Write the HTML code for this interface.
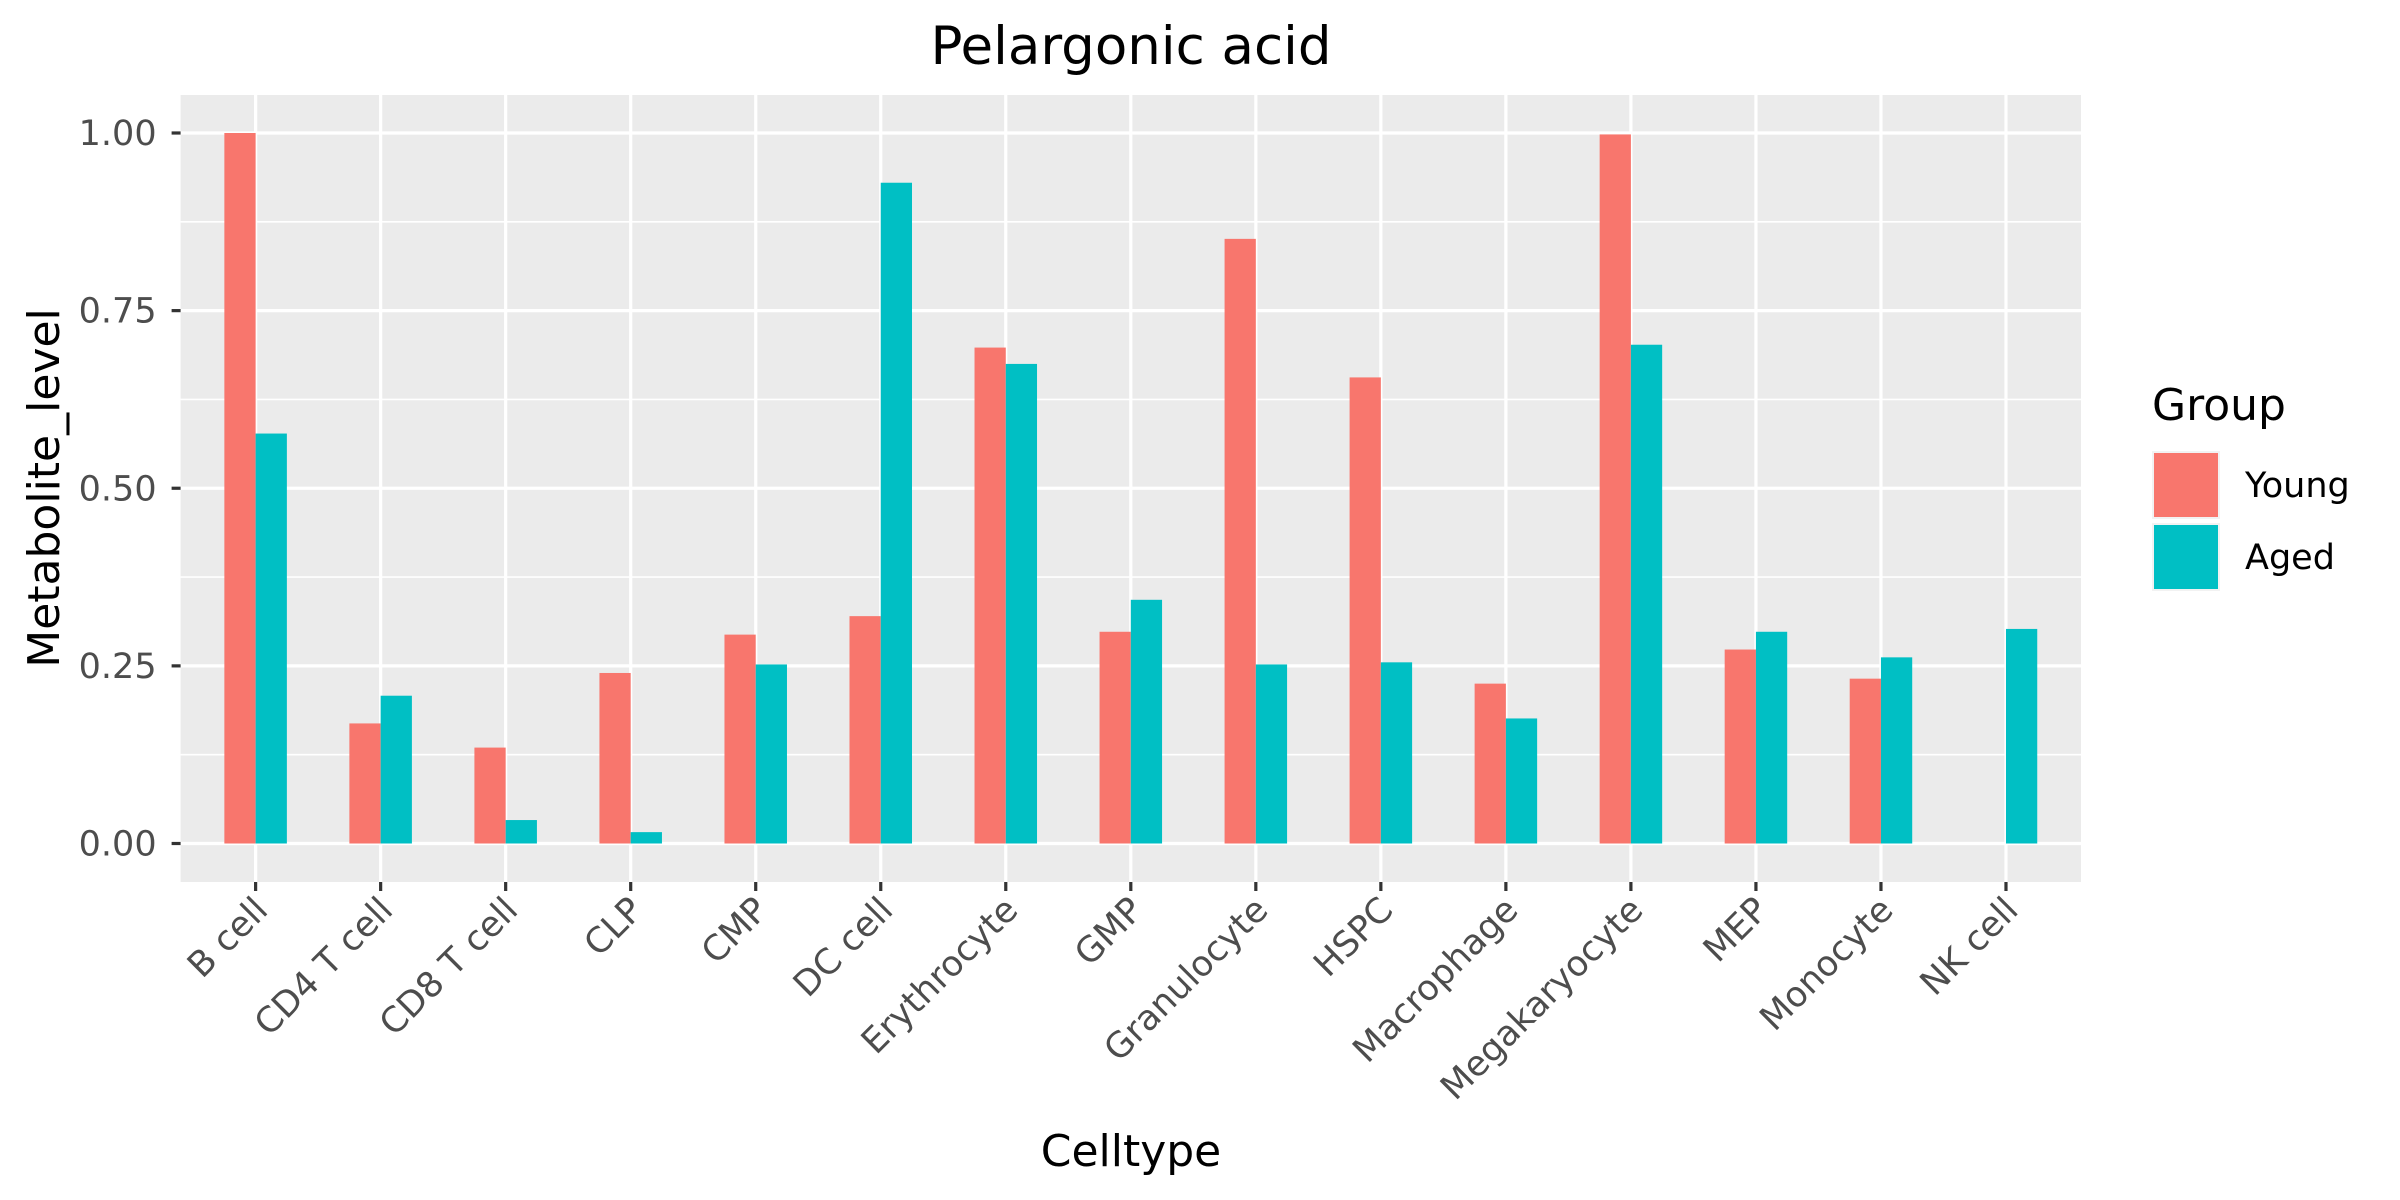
<!DOCTYPE html>
<html><head><meta charset="utf-8"><style>
html,body{margin:0;padding:0;background:#fff;}
svg{display:block;font-family:"DejaVu Sans","Liberation Sans",sans-serif;}
</style></head><body>
<svg id="chart" width="2400" height="1200" viewBox="0 0 2400 1200" xmlns="http://www.w3.org/2000/svg">
<rect x="0" y="0" width="2400" height="1200" fill="#fff"/>
<text x="1131" y="64" font-size="53" text-anchor="middle" fill="#000">Pelargonic acid</text>
<rect x="180.6" y="95" width="1900.4" height="787" fill="#EBEBEB"/>
<g id="grid"></g>
<g id="bars"></g>
<g id="axes"></g>
<text x="1131" y="1166" font-size="44" text-anchor="middle" fill="#000">Celltype</text>
<text transform="translate(59,488) rotate(-90)" font-size="44" text-anchor="middle" fill="#000">Metabolite_level</text>
<g>
<text x="2152" y="420" font-size="44" fill="#000">Group</text>
<rect x="2152" y="451" width="68" height="68" fill="#F2F2F2"/>
<rect x="2154" y="453" width="64" height="64" fill="#F8766D"/>
<text x="2245" y="486" font-size="35" dominant-baseline="central" fill="#000">Young</text>
<rect x="2152" y="523" width="68" height="68" fill="#F2F2F2"/>
<rect x="2154" y="525" width="64" height="64" fill="#00BFC4"/>
<text x="2245" y="558" font-size="35" dominant-baseline="central" fill="#000">Aged</text>
</g>
</svg>
<script>
const categories = ["B cell","CD4 T cell","CD8 T cell","CLP","CMP","DC cell","Erythrocyte","GMP","Granulocyte","HSPC","Macrophage","Megakaryocyte","MEP","Monocyte","NK cell"];
const youngValues = [1.0,0.169,0.135,0.240,0.294,0.320,0.698,0.298,0.851,0.656,0.225,0.998,0.273,0.232,0];
const agedValues = [0.577,0.208,0.033,0.016,0.252,0.930,0.675,0.343,0.252,0.255,0.176,0.702,0.298,0.262,0.302];
const yTicks = [0,0.25,0.5,0.75,1.0];
const yTickLabels = ["0.00","0.25","0.50","0.75","1.00"];

const NS = "http://www.w3.org/2000/svg";
const panelL = 180.6, panelR = 2081, panelT = 95, panelB = 882;
const step = (panelR - panelL) / (categories.length - 1 + 1.2);
function xScale(i){ return panelL + step * (0.6 + i); }
function yScale(v){ return 843.5 - v * 710.5; }
const barW = step * 0.25;
function mk(tag, attrs, parent){
  const e = document.createElementNS(NS, tag);
  for (const k in attrs) e.setAttribute(k, attrs[k]);
  parent.appendChild(e); return e;
}
const grid = document.getElementById('grid');
const bars = document.getElementById('bars');
const axes = document.getElementById('axes');
for (let i = 0; i < yTicks.length - 1; i++) {
  const v = (yTicks[i] + yTicks[i+1]) / 2;
  const l = mk('line', {x1:panelL, x2:panelR, y1:yScale(v), y2:yScale(v), stroke:'#fff', 'stroke-width':1.6}, grid);
  
  
}
yTicks.forEach((v, i) => {
  const y = yScale(v);
  const l = mk('line', {x1:panelL, x2:panelR, y1:y, y2:y, stroke:'#fff', 'stroke-width':3.2}, grid);
  
  
  const t = mk('line', {x1:panelL-9, x2:panelL, y1:y, y2:y, stroke:'#333', 'stroke-width':3.2}, axes);
  
  
  const tx = mk('text', {x:panelL-24, y:y+1, 'font-size':35, 'text-anchor':'end', 'dominant-baseline':'central', fill:'#4D4D4D'}, axes);
  tx.textContent = yTickLabels[i];
  
  
});
categories.forEach((c, i) => {
  const x = xScale(i);
  const g = mk('line', {x1:x, x2:x, y1:panelT, y2:panelB, stroke:'#fff', 'stroke-width':3.2}, grid);
  
  
  const by = mk('rect', {x:x-barW, y:yScale(youngValues[i]), width:barW, height:yScale(0)-yScale(youngValues[i]), fill:'#F8766D'}, bars);
  
  
  const ba = mk('rect', {x:x, y:yScale(agedValues[i]), width:barW, height:yScale(0)-yScale(agedValues[i]), fill:'#00BFC4'}, bars);
  
  
  const t = mk('line', {x1:x, x2:x, y1:panelB, y2:panelB+9, stroke:'#333', 'stroke-width':3.2}, axes);
  
  
  const tx = mk('text', {transform:'translate('+(x+14)+','+(panelB+30)+') rotate(-45)', 'font-size':35, 'text-anchor':'end', fill:'#4D4D4D'}, axes);
  tx.textContent = c;
  
  
});
</script>
</body></html>
